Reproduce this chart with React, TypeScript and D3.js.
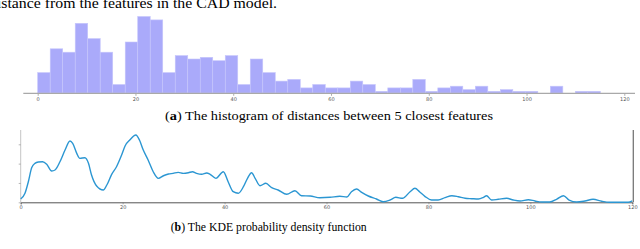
import React, { useEffect, useRef } from 'react'
import * as d3 from 'd3'

// histogram counts, 45 equal bins between 0 and the max distance
const histCounts = [
  12, 26, 24, 41, 32, 24, 5, 30, 45, 43, 12, 22, 20, 21, 19, 22, 5, 20, 12, 7, 8, 3, 5, 3, 3, 7, 5,
  1, 3, 3, 8, 1, 3, 4, 2, 4, 1, 2, 1, 1, 0, 4, 0, 1, 1,
]
const histMax = 115.1

// KDE curve, density in units of 1e-3
const kdeX = [
  0, 0.84, 1.5, 2.15, 2.8, 3.46, 4.3, 5.1, 6.08, 6.73, 7.7, 8.7, 9.67, 10.2, 11, 11.6, 12.6, 13.3,
  13.9, 14.9, 16.2, 16.9, 17.85, 18.8, 19.8, 20.5, 21.4, 22.6, 23.3, 24.05, 25, 26, 27, 28, 29, 29.9,
  30.9, 31.9, 32.9, 33.7, 34.5, 35.5, 36.5, 37.1, 38.3, 39.75, 40.7, 41.7, 42.7, 43.7, 44.5, 45.3,
  46, 46.95, 48.1, 49.25, 50.5, 52.2, 53.8, 55.1, 56.8, 58.7, 60.7, 62.6, 64, 64.9, 65.9, 66.9,
  68.2, 69.8, 71.1, 72.45, 73.6, 74.9, 76.4, 77.35, 78.3, 79.3, 80.6, 81.9, 83.25, 84.6, 85.85,
  87.2, 88.5, 89.8, 90.8, 91.4, 92.4, 93.7, 95.35, 96.65, 98, 99.6, 100.9, 102.2, 103.8, 105.2,
  106.5, 107.6, 109.1, 110.7, 112.3, 114, 115.6, 117.6, 119.2, 120,
]
const kdeY = [
  0.85, 2.33, 5.32, 8.94, 10.08, 10.41, 10.49, 9.82, 8.09, 8.35, 10.49, 13.51, 15.84, 15.25, 12.66,
  11.37, 11.52, 10.08, 7.05, 4.21, 3.18, 4.47, 7.24, 9.2, 12.22, 14.63, 16.1, 17.39, 16.1, 13.51,
  10.93, 7.91, 6.2, 6.87, 7.31, 7.49, 7.75, 7.49, 7.65, 7.91, 7.49, 7.24, 7.57, 7.31, 6.2, 7.91,
  5.32, 2.74, 2.33, 4.03, 6.2, 7.65, 6.2, 4.29, 4.91, 3.77, 3.18, 2.07, 3.0, 1.71, 1.63, 1.19, 1.29,
  1.55, 1.37, 2.74, 3.44, 2.58, 1.63, 0.85, 0.16, 0.59, 1.29, 1.03, 2.74, 3.62, 2.66, 1.55, 0.59,
  0.59, 1.19, 1.71, 1.45, 1.03, 0.93, 0.85, 1.29, 1.71, 0.59, 0.78, 1.03, 0.59, 0.34, 0.67, 0.34,
  0.08, 0.08, 0.85, 1.71, 0.59, 0.08, 0.34, 0.78, 0.26, 0, 0, 0, 0.34,
]

const xTicks = [0, 20, 40, 60, 80, 100, 120]
const kdeYTicks = [0, 5, 10, 15]

const App = () => {
  const svgRef = useRef<SVGSVGElement>(null)

  useEffect(() => {
    const svg = d3.select(svgRef.current)
    svg.selectAll('*').remove()
    const serif = 'Liberation Serif, Times New Roman, serif'
    const sans = 'DejaVu Sans, sans-serif'

    // body text line cut at the top
    svg
      .append('text')
      .attr('x', -11)
      .attr('y', 7.5)
      .attr('font-family', serif)
      .attr('font-size', 14)
      .attr('textLength', 288)
      .attr('lengthAdjust', 'spacingAndGlyphs')
      .text('distance from the features in the CAD model.')

    // ---- (a) histogram
    const hx = d3.scaleLinear().domain([0, 120]).range([37.7, 624.3])
    const hy = d3.scaleLinear().domain([0, 45]).range([93, 16.5])
    const bw = histMax / histCounts.length

    svg
      .append('g')
      .selectAll('rect')
      .data(histCounts)
      .enter()
      .append('rect')
      .attr('x', (d, i) => hx(i * bw))
      .attr('width', (d, i) => hx((i + 1) * bw) - hx(i * bw))
      .attr('y', (d) => hy(d))
      .attr('height', (d) => hy(0) - hy(d))
      .attr('fill', '#aaaafa')
      .attr('stroke', '#c6c6fc')
      .attr('stroke-width', 0.6)

    svg
      .append('line')
      .attr('x1', 23.3)
      .attr('x2', 635)
      .attr('y1', 93.3)
      .attr('y2', 93.3)
      .attr('stroke', '#a9a9a9')
      .attr('stroke-width', 1.2)

    const hAxis = svg
      .append('g')
      .attr('transform', 'translate(0, 94)')
      .call(d3.axisBottom(hx).tickValues(xTicks).tickSize(1.8).tickPadding(1.5))
    hAxis.select('.domain').remove()
    hAxis.selectAll('line').attr('stroke', '#777').attr('stroke-width', 0.6)
    hAxis.selectAll('text').attr('font-family', sans).attr('font-size', 5).attr('fill', '#555')

    svg
      .append('text')
      .attr('x', 165)
      .attr('y', 120)
      .attr('font-family', serif)
      .attr('font-size', 12)
      .attr('textLength', 328)
      .attr('lengthAdjust', 'spacingAndGlyphs')
      .call((t) => {
        t.append('tspan').text('(')
        t.append('tspan').attr('font-weight', 'bold').text('a')
        t.append('tspan').text(') The histogram of distances between 5 closest features')
      })

    // ---- (b) KDE
    const kx = d3.scaleLinear().domain([0, 120]).range([20.7, 632.3])
    const ky = d3.scaleLinear().domain([0, 18.7]).range([202.3, 130])

    svg
      .append('line')
      .attr('x1', kx(0))
      .attr('x2', kx(0))
      .attr('y1', 130)
      .attr('y2', ky(0))
      .attr('stroke', '#b5b5b5')
      .attr('stroke-width', 0.8)
    svg
      .append('line')
      .attr('x1', 633.3)
      .attr('x2', 633.3)
      .attr('y1', 130)
      .attr('y2', ky(0))
      .attr('stroke', '#777')
      .attr('stroke-width', 1.3)

    const kyAxis = svg
      .append('g')
      .attr('transform', `translate(${kx(0)}, 0)`)
      .call(d3.axisLeft(ky).tickValues(kdeYTicks).tickSize(2).tickFormat(() => ''))
    kyAxis.select('.domain').remove()
    kyAxis.selectAll('line').attr('stroke', '#888').attr('stroke-width', 0.6)

    const kxAxis = svg
      .append('g')
      .attr('transform', `translate(0, ${ky(0)})`)
      .call(d3.axisBottom(kx).tickValues(xTicks).tickSize(2).tickPadding(1.5))
    kxAxis.select('.domain').attr('stroke', '#555').attr('stroke-width', 1)
    kxAxis.selectAll('line').attr('stroke', '#777').attr('stroke-width', 0.6)
    kxAxis.selectAll('text').attr('font-family', sans).attr('font-size', 5).attr('fill', '#555')

    const pts = kdeX.map((x, i) => [x, kdeY[i]] as [number, number])
    const line = d3
      .line<[number, number]>()
      .x((d) => kx(d[0]))
      .y((d) => ky(d[1]))
      .curve(d3.curveMonotoneX)
    svg
      .append('path')
      .datum(pts)
      .attr('d', line)
      .attr('fill', 'none')
      .attr('stroke', '#2b96d2')
      .attr('stroke-width', 1.4)

    svg
      .append('text')
      .attr('x', 170.7)
      .attr('y', 230.5)
      .attr('font-family', serif)
      .attr('font-size', 12)
      .attr('textLength', 196)
      .attr('lengthAdjust', 'spacingAndGlyphs')
      .call((t) => {
        t.append('tspan').text('(')
        t.append('tspan').attr('font-weight', 'bold').text('b')
        t.append('tspan').text(') The KDE probability density function')
      })
  }, [])

  return (
    <svg
      ref={svgRef}
      width={640}
      height={249}
      style={{ position: 'absolute', left: 0, top: 0, background: '#fff' }}
    ></svg>
  )
}

export default App
